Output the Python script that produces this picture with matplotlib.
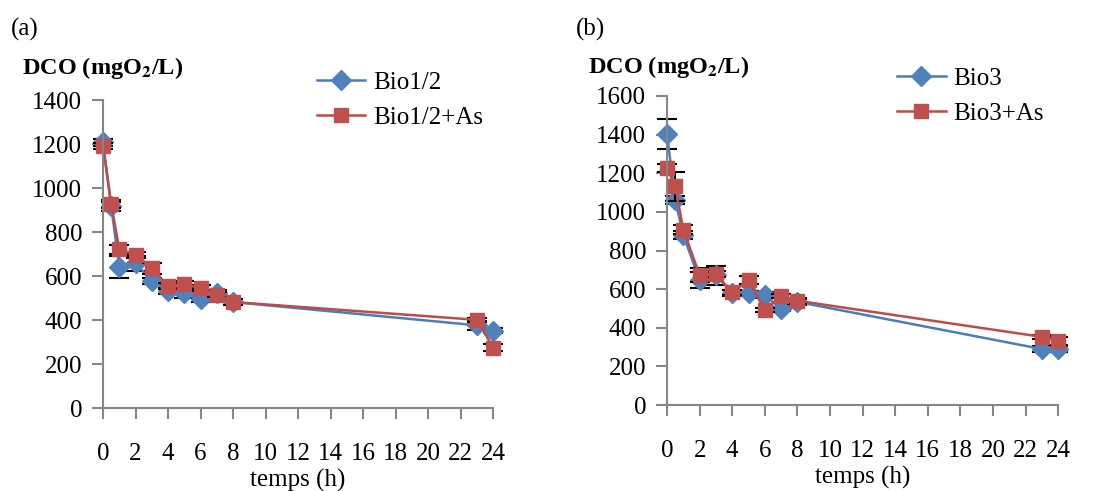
import numpy as np
import matplotlib.pyplot as plt
from matplotlib.lines import Line2D

plt.rcParams['font.family'] = ['Liberation Serif', 'DejaVu Serif']
plt.rcParams['mathtext.fontset'] = 'stix'

temps = [0, 0.5, 1, 2, 3, 4, 5, 6, 7, 8, 23, 24]

# panel (a)
bio12 = [1208, 918, 642, 658, 578, 533, 522, 495, 522, 482, 376, 352]
bio12_err = [15, 20, 50, 35, 15, 15, 20, 15, 15, 15, 20, 10]
bio12_as = [1192, 928, 722, 696, 636, 555, 563, 545, 516, 482, 401, 275]
bio12_as_err = [15, 20, 20, 15, 25, 15, 15, 15, 10, 15, 10, 15]

# panel (b)
bio3 = [1402, 1060, 879, 647, 672, 581, 578, 569, 497, 534, 290, 290]
bio3_err = [78, 20, 20, 40, 50, 15, 10, 15, 10, 15, 15, 15]
bio3_as = [1227, 1133, 908, 672, 678, 583, 647, 491, 564, 540, 353, 333]
bio3_as_err = [20, 75, 25, 35, 15, 15, 20, 10, 10, 15, 10, 20]

blue = '#4A7EBB'
red = '#BE4B48'
DMS, SMS = 10.5, 9.5  # marker sizes

fig = plt.figure(figsize=(11.02, 4.91), dpi=100)


def panel(rect, s1, e1, s2, e2, names, ymax, ystep, letter, letter_x, leg_anchor, ylab_pos):
    ax = fig.add_axes(rect)
    for s, e, c, fc, m, ms in [(s1, e1, blue, '#4F81BD', 'D', DMS), (s2, e2, red, '#C0504D', 's', SMS)]:
        ax.errorbar(temps, s, yerr=e, fmt='none', ecolor='black', elinewidth=1.5,
                    capsize=7, capthick=1.5, clip_on=False)
        ax.plot(temps, s, color=c, marker=m, markersize=ms, markerfacecolor=fc,
                markeredgecolor=fc, lw=1.8, clip_on=False)
    ax.set_xlim(0, 24)
    ax.set_ylim(0, ymax)
    ax.set_xticks(np.arange(0, 25, 2))
    ax.set_yticks(np.arange(0, ymax + 1, ystep))
    for s in ['top', 'right']:
        ax.spines[s].set_visible(False)
    for s in ['left', 'bottom']:
        ax.spines[s].set_color('#868686')
        ax.spines[s].set_linewidth(1.5)
    ax.tick_params(axis='both', colors='#868686', length=8, width=1.5, labelsize=18,
                   labelcolor='black')
    ax.tick_params(axis='x', pad=17)
    ax.tick_params(axis='y', pad=7)
    ax.set_xlabel('temps (h)', fontsize=18, labelpad=3)
    ax.text(ylab_pos[0], ylab_pos[1], 'DCO (mgO$_\\mathbf{2}$/L)', transform=ax.transAxes,
            fontsize=17.5, fontweight='bold', ha='left', va='center')
    fig.text(letter_x, 0.94, letter, fontsize=18, ha='left', va='center')
    handles = [Line2D([], [], color=blue, marker='D', markersize=DMS, markerfacecolor='#4F81BD',
                      markeredgecolor='#4F81BD', lw=1.8),
               Line2D([], [], color=red, marker='s', markersize=SMS, markerfacecolor='#C0504D',
                      markeredgecolor='#C0504D', lw=1.8)]
    ax.legend(handles, names, loc='upper left', bbox_to_anchor=leg_anchor, frameon=False,
              fontsize=18, handlelength=1.95, handletextpad=0.3, labelspacing=0.5)
    return ax


panel([0.0935, 0.169, 0.354, 0.627], bio12, bio12_err, bio12_as, bio12_as_err,
      ['Bio1/2', 'Bio1/2+As'], 1400, 200, '(a)', 0.010, (0.49, 1.167), (-0.208, 1.104))
panel([0.6053, 0.175, 0.355, 0.6295], bio3, bio3_err, bio3_as, bio3_as_err,
      ['Bio3', 'Bio3+As'], 1600, 200, '(b)', 0.523, (0.53, 1.165), (-0.202, 1.094))

fig.savefig('out.png', dpi=100)
